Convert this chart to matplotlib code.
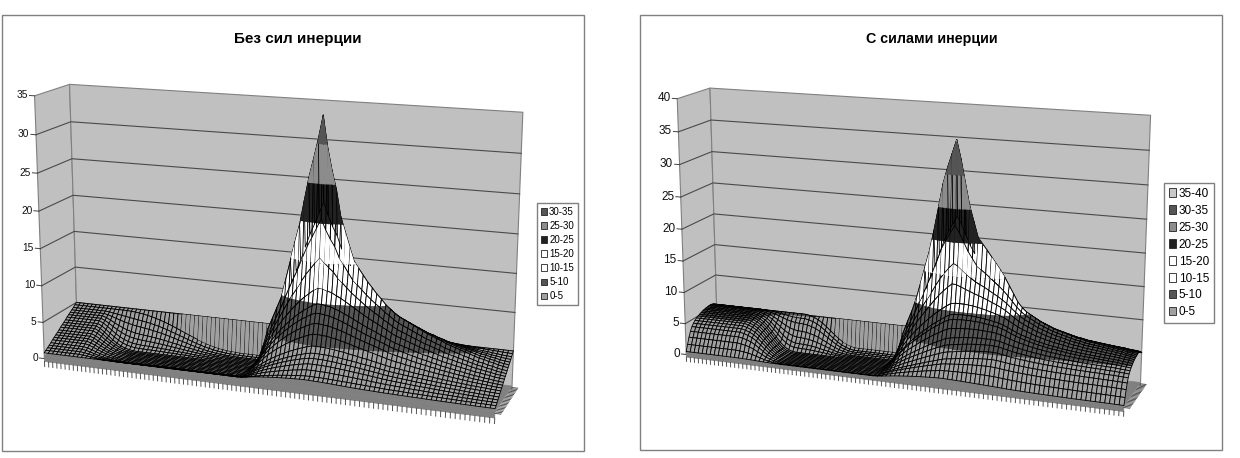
import numpy as np
import matplotlib
matplotlib.use('Agg')
import matplotlib.pyplot as plt
from matplotlib.axes import Axes
from matplotlib.colors import to_rgba
from matplotlib.patches import Patch, Rectangle
from mpl_toolkits.mplot3d import proj3d
from mpl_toolkits.mplot3d.art3d import Poly3DCollection

plt.rcParams['font.family'] = ['Liberation Sans', 'DejaVu Sans']

W, H = 1240, 458

# Surface heights are rebuilt from profiles (101 columns, 21 rows),
# the single cells cannot be read: cross sections along depth and weights along the long axis.
ramp_left = [.8, 1, 1.2, 1.4, 1.6, 1.85, 2.05, 2.25, 2.45, 2.65, 2.9, 3.1, 3.3, 3.5, 3.75, 3.95, 4.15, 4.35, 4.55, 4.8, 5]
steep_left = [.8, .6, .5, .4, .4, .4, .4, .4, .4, .4, .4, .4, .4, .4, .4, .4, .4, .4, .5, .7, 5]
hump_left = [.05, .076, .12, .164, .2, .23, .28, .375, .46, .54, .61, .72, .82, .92, 1, .92, .8, .62, .45, .25, 0]
spike_left = [0] * 11 + [.02, .15, .34, 1, .44, .11, .01, 0, 0, 0]
fall = [.98, .96, .94, .92, .9, .88, .85, .82, .78, .74, .7, .66, .6, .55, .5, .44, .38, .32, .26, .2, .15, .1, .05, .02]
mix_front_left = [0] * 9 + [.1, .25, .42, .58, .72, .83, .91, .96, .99] + [1] * 30 + fall + [0] * 29
mix_rear_left = [0] * 14 + [.01, .02, .04, .06, .09, .12, .16, .2, .25, .3, .36, .42, .48, .54, .6, .66, .72, .77, .82, .86, .9, .93, .95, .97,
                            .98, .99] + [1] * 8 + fall + [0] * 29
broad_left = [0] * 46 + [.7, 2, 3.6, 5.1, 6.5, 7.7, 8.8, 9.8, 10.7, 11.5, 12.2, 12.8, 13.3, 13.8, 14, 13.8, 13.4, 13, 12.4, 11.8, 11.1, 10.4, 9.7, 9, 8.3,
                         7.7, 7.2, 6.8, 6.3, 5.9, 5.4, 5, 4.7, 4.4, 4.1, 3.8, 3.5, 3.2, 3, 2.7, 2.5, 2.2, 2, 1.8, 1.6, 1.4, 1.2, 1, .8, .7, .5, .4, .2, .1, 0]
sharp_left = [0] * 46 + [.3, .8, 1.3, 1.2, 1.2, 1.4, 2.7, 4.1, 5.6, 7, 9.3, 11.6, 13.4, 15.3, 17.9, 14, 11.3, 9.1, 6.1, 4.6, 3.2, 1.9, 1.6, 1.3, 1, .8, .5, .3, .1] + [0] * 26

ramp_right = [.5, 1.5, 2.5, 3.3, 3.9, 4.3, 4.6, 4.85, 5, 5.15, 5.3, 5.4, 5.5, 5.55, 5.6, 5.65, 5.65, 5.6, 5.5, 5.3, 5]
steep_right = [.3, .2, .2, .2, .2, .2, .2, .2, .2, .2, .2, .2, .2, .2, .2, .2, .3, .4, .5, .8, 5]
hump_right = [.06, .105, .136, .154, .2, .255, .31, .395, .48, .52, .63, .74, .84, .93, 1, .93, .81, .65, .47, .26, 0]
spike_right = [0] * 11 + [.07, .15, .38, 1, .44, .1, .01, 0, 0, 0]
mix_front_right = [0] * 13 + [.04, .1, .18, .3, .45, .6, .75, .87, .95, .99] + [1] * 25 + fall + [0] * 29
mix_rear_right = [0] * 24 + [.03, .08, .15, .25, .37, .5, .63, .75, .85, .92, .97] + [1] * 13 + fall + [0] * 29
broad_right = [0] * 46 + [.7, 2, 3.6, 5.1, 6.5, 7.7, 8.8, 9.8, 10.7, 11.5, 12.2, 12.8, 13.3, 13.8, 14, 13.8, 13.4, 12.9, 12.3, 11.7, 11, 10.3, 9.6, 8.9, 8.2, 7.6, 7, 6.4, 5.8, 5.2,
                          4.7, 4.3, 3.9, 3.5, 3.2, 2.9, 2.6, 2.4, 2.2, 2, 1.8, 1.6, 1.5, 1.3, 1.2, 1.1, 1, .9, .8, .7, .6, .5, .3, .2, 0]
sharp_right = [0] * 46 + [.2, .6, 1.2, 1.4, 1.6, 2.3, 3.6, 5, 6.5, 8.7, 11.3, 14.1, 15.9, 17.3, 18.9, 16, 12.7, 9.5, 7.4, 5.3, 4.8, 4.3, 3.8, 3.3, 2.8, 2.2, 1.5, .9, .3, .1] + [0] * 25

rear_weight = [0] * 13 + [.1, .2, .35, .5, .7, .85, 1, 1]

labels_left = ['30-35', '25-30', '20-25', '15-20', '10-15', '5-10', '0-5']
labels_right = ['35-40'] + labels_left
band_colors = ['#a0a0a0', '#555555', '#ffffff', '#ffffff', '#222222', '#8c8c8c', '#555555', '#c8c8c8']

view_left = [14.677, -69.81, .553, .16, .58, 264.41, 248.885, 544.158]
view_right = [14.437, -69.571, .57, .154, .58, 899.879, 247.962, 529.195]


def place(ax, p, zmax):
    elev, azim, f, ay, az, cx, cy, s = p
    ax.view_init(elev=elev, azim=azim)
    ax.set_proj_type('persp', focal_length=f)
    ax.set_box_aspect((1, ay, az))
    ax.set_position([(cx - s / 2) / W, (H - cy - s / 2) / H, s / W, s / H])
    ax.set_xlim(0, 1)
    ax.set_ylim(0, 1)
    ax.set_zlim(0, zmax)


def clip_quad(quad, lo, hi):
    # cut a cell at the band limits, so that the bands end on clean contours
    pts = quad
    for level, sign in ((lo, 1), (hi, -1)):
        out = []
        for a, b in zip(pts, pts[1:] + pts[:1]):
            da, db = sign * (a[2] - level), sign * (b[2] - level)
            if da >= 0:
                out.append(a)
            if da * db < 0:
                t = da / (da - db)
                out.append(tuple(a[k] + t * (b[k] - a[k]) for k in range(3)))
        pts = out
        if not pts:
            break
    return pts


def surface_faces(X, Y, Z):
    rgba = [to_rgba(c) for c in band_colors]
    black, clear = to_rgba('#000000'), (0, 0, 0, 0)
    faces, fc, ec = [], [], []
    for j in range(Z.shape[0] - 1):
        for i in range(Z.shape[1] - 1):
            quad = [(X[j, i], Y[j, i], Z[j, i]), (X[j, i + 1], Y[j, i + 1], Z[j, i + 1]),
                    (X[j + 1, i + 1], Y[j + 1, i + 1], Z[j + 1, i + 1]), (X[j + 1, i], Y[j + 1, i], Z[j + 1, i])]
            zs = [q[2] for q in quad]
            b0, b1 = int(min(zs) // 5), int(max(zs) // 5)
            if b0 == b1:
                faces.append(quad)
                fc.append(rgba[b0])
                ec.append(black)
                continue
            for b in range(b0, b1 + 1):
                piece = clip_quad(quad, 5 * b, 5 * b + 5)
                if len(piece) >= 3:
                    faces.append(piece)
                    fc.append(rgba[min(b, 7)])
                    ec.append(clear)
            # mesh outline over the pieces; the near corner is repeated so it sorts after them
            faces.append([quad[1], quad[1], quad[1], quad[2], quad[3], quad[0]])
            fc.append(clear)
            ec.append(black)
    return faces, fc, ec


def draw_chart(fig, p, zmax, ramp, steep, hump, spike, mix_front, mix_rear, broad, sharp, fs):
    ax = fig.add_axes([0, 0, .5, .5], projection='3d')
    ax.set_axis_off()
    ax.computed_zorder = False
    place(ax, p, zmax)
    ax.apply_aspect()

    wall = Poly3DCollection([[(0, 0, 0), (0, 1, 0), (0, 1, zmax), (0, 0, zmax)],
                             [(0, 1, 0), (1, 1, 0), (1, 1, zmax), (0, 1, zmax)]],
                            facecolors='#c0c0c0', edgecolors='#808080', linewidths=.8, zorder=1)
    ax.add_collection3d(wall)
    for z in range(5, zmax, 5):
        ax.plot([0, 0, 1], [0, 1, 1], [z, z, z], color='#4a4a4a', lw=.8, zorder=2)
    M = ax.get_proj()
    for z in range(0, zmax + 1, 5):
        ax.plot([-.012, 0], [0, 0], [z, z], color='#404040', lw=.7, zorder=2)
        tx, ty, _ = proj3d.proj_transform(-.016, 0, z, M)
        Axes.text(ax, tx, ty, str(z), ha='right', va='center', fontsize=fs, color='#111111')
    floor = Poly3DCollection([[(0, 0, .4), (1, 0, .4), (1, 1, .4), (0, 1, .4)],
                              [(0, 0, .4), (1, 0, .4), (1, 0, -.4), (0, 0, -.4)]],
                             facecolors='#808080', edgecolors='#808080', linewidths=.5, zorder=3)
    ax.add_collection3d(floor)

    xs = np.linspace(0, 1, 101)
    ys = np.linspace(0, 1, 21)
    for x in xs:
        ax.plot([x, x], [0, 0], [-.4, -1.1], color='#505050', lw=.7, zorder=3)
    for y in ys:
        ax.plot([1, 1.012], [y, y], [.2, .2], color='#505050', lw=.7, zorder=3)

    w = np.array(rear_weight)
    mix = np.outer(mix_front, 1 - w) + np.outer(mix_rear, w)
    Z = ((1 - mix) * np.array(ramp) + mix * np.array(steep) + np.outer(broad, hump) + np.outer(sharp, spike)).T
    X, Y = np.meshgrid(xs, ys)
    faces, fc, ec = surface_faces(X, Y, Z)
    surf = Poly3DCollection(faces, facecolors=fc, edgecolors=ec, linewidths=.6, zorder=4)
    ax.add_collection3d(surf)
    return ax


def frame(fig, x0, y0, x1, y1):
    fig.add_artist(Rectangle((x0 / W, 1 - y1 / H), (x1 - x0) / W, (y1 - y0) / H, transform=fig.transFigure,
                             fill=False, edgecolor='#808080', lw=1))


def legend(fig, labels, x0, y0, fs, spacing):
    handles = [Patch(facecolor=band_colors[len(labels) - 1 - k], edgecolor='#222222', lw=.6) for k in range(len(labels))]
    fig.legend(handles, labels, loc='upper left', bbox_to_anchor=(x0 / W, 1 - y0 / H), fontsize=fs, frameon=True, fancybox=False,
               edgecolor='#808080', framealpha=1, handlelength=.6, handleheight=.7, handletextpad=.25, labelspacing=spacing,
               borderpad=.4, borderaxespad=0)


fig = plt.figure(figsize=(W / 100, H / 100), dpi=100)
frame(fig, 1.5, 14.5, 583.5, 450.5)
frame(fig, 640.5, 14.5, 1221.5, 449.5)

draw_chart(fig, view_left, 35, ramp_left, steep_left, hump_left, spike_left, mix_front_left, mix_rear_left, broad_left, sharp_left, 7.3)
draw_chart(fig, view_right, 40, ramp_right, steep_right, hump_right, spike_right, mix_front_right, mix_rear_right, broad_right, sharp_right, 8.5)

fig.text(298 / W, 1 - 39.5 / H, 'Без сил инерции', ha='center', va='center', fontsize=11, fontweight='bold')
fig.text(932 / W, 1 - 39.5 / H, 'С силами инерции', ha='center', va='center', fontsize=10.3, fontweight='bold')
legend(fig, labels_left, 537, 203, 7, .42)
legend(fig, labels_right, 1164, 183, 8.5, .42)

fig.savefig('out.png', dpi=100)
